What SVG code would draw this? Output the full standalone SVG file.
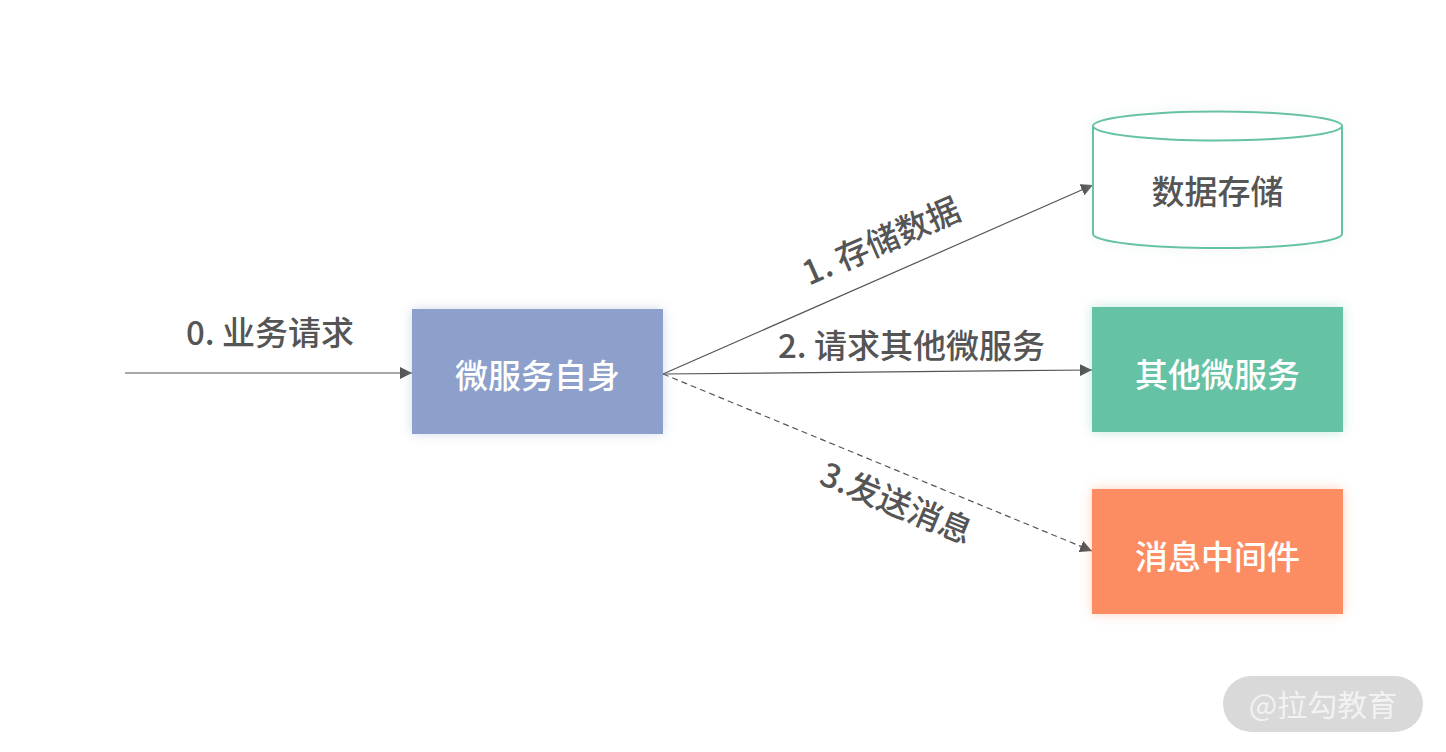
<svg xmlns="http://www.w3.org/2000/svg" width="1446" height="752" viewBox="0 0 1446 752">
<defs>
<style>
.lbl{font-family:"Noto Sans CJK SC","Noto Sans",sans-serif;font-size:33px;font-weight:500;fill:#555555;text-anchor:middle}
.wt{font-family:"Noto Sans CJK SC","Noto Sans",sans-serif;font-size:33px;font-weight:500;fill:#ffffff;text-anchor:middle}
.ln{stroke:#555555;stroke-width:1.2;fill:none}
</style>
<marker id="ah" viewBox="0 0 10 10" refX="10" refY="5" markerWidth="12" markerHeight="12" markerUnits="userSpaceOnUse" orient="auto">
<path d="M0,0 L10,5 L0,10 z" fill="#555555"/>
</marker>
<filter id="glow" x="-20%" y="-30%" width="140%" height="160%">
<feGaussianBlur in="SourceGraphic" stdDeviation="6" result="b"/>
<feComponentTransfer in="b" result="c"><feFuncA type="linear" slope="0.4"/></feComponentTransfer>
<feMerge><feMergeNode in="c"/><feMergeNode in="SourceGraphic"/></feMerge>
</filter>
</defs>
<rect width="1446" height="752" fill="#ffffff"/>
<g id="connectors">
<line class="ln" x1="125" y1="373" x2="412" y2="373" marker-end="url(#ah)"/>
<line class="ln" x1="663" y1="374" x2="1093" y2="185" marker-end="url(#ah)"/>
<line class="ln" x1="663" y1="374" x2="1092" y2="370" marker-end="url(#ah)"/>
<line class="ln" x1="663" y1="374" x2="1092" y2="551" stroke-dasharray="6,4" marker-end="url(#ah)"/>
<text class="lbl" x="270" y="345">0. 业务请求</text>
<text class="lbl" transform="translate(886,252) rotate(-23.6)">1. 存储数据</text>
<text class="lbl" x="911.5" y="358">2. 请求其他微服务</text>
<text class="lbl" transform="translate(892,514) rotate(22.4)">3.发送消息</text>
</g>
<g id="node-self">
<rect x="412" y="309" width="251" height="125" fill="#8da0cb" filter="url(#glow)"/>
<text class="wt" x="537.5" y="388">微服务自身</text>
</g>
<g id="node-db">
<g filter="url(#glow)">
<path d="M1093,126 L1093,234 A124.5,14 0 0 0 1342,234 L1342,126" fill="#ffffff" stroke="#66c2a5" stroke-width="2"/>
<ellipse cx="1217.5" cy="126" rx="124.5" ry="14.5" fill="#ffffff" stroke="#66c2a5" stroke-width="2"/>
</g>
<text class="lbl" x="1217.5" y="204">数据存储</text>
</g>
<g id="node-other">
<rect x="1092" y="307" width="251" height="125" fill="#66c2a5" filter="url(#glow)"/>
<text class="wt" x="1217.5" y="387">其他微服务</text>
</g>
<g id="node-mq">
<rect x="1092" y="489" width="251" height="125" fill="#fc8d62" filter="url(#glow)"/>
<text class="wt" x="1217.5" y="569">消息中间件</text>
</g>
<g id="watermark">
<rect x="1223" y="676" width="200" height="56" rx="28" fill="#d9d9d9"/>
<text x="1323" y="716" font-family="Noto Sans CJK SC,sans-serif" font-size="30" fill="#f2f2f2" text-anchor="middle">@拉勾教育</text>
</g>
</svg>
